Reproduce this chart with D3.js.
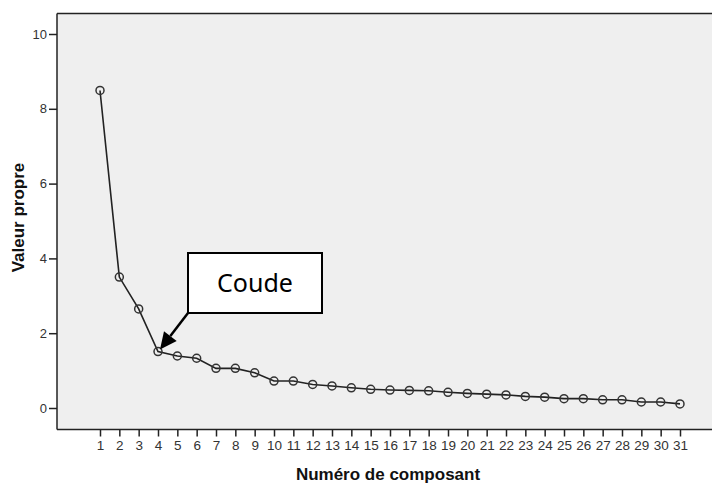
<!DOCTYPE html>
<html>
<head>
<meta charset="utf-8">
<script src="https://cdn.jsdelivr.net/npm/d3@7"></script>
<style>
  html, body { margin: 0; padding: 0; background: #ffffff; }
  svg { display: block; }
</style>
</head>
<body>
<svg id="chart" width="712" height="483"></svg>
<script>
const components = [1,2,3,4,5,6,7,8,9,10,11,12,13,14,15,16,17,18,19,20,21,22,23,24,25,26,27,28,29,30,31];
const eigenvalues = [8.49,3.50,2.65,1.51,1.39,1.33,1.06,1.06,0.94,0.72,0.72,0.63,0.59,0.54,0.50,0.48,0.47,0.46,0.42,0.39,0.37,0.35,0.31,0.29,0.25,0.25,0.22,0.22,0.16,0.16,0.11];
const yTicks = [0,2,4,6,8,10];
const xLabel = "Numéro de composant";
const yLabel = "Valeur propre";
const annotationText = "Coude";
const elbowIndex = 3;

const svg = d3.select("#chart");
const plot = { left: 57, top: 13.5, right: 712, bottom: 429.5 };

const x = d3.scaleLinear().domain([1, 31]).range([100, 680]);
const y = d3.scaleLinear().domain([0, 10]).range([408, 34]);

svg.append("rect")
  .attr("x", plot.left).attr("y", plot.top)
  .attr("width", plot.right - plot.left).attr("height", plot.bottom - plot.top)
  .attr("fill", "#efefef");

svg.append("line")
  .attr("x1", plot.left).attr("x2", plot.right)
  .attr("y1", plot.top).attr("y2", plot.top)
  .attr("stroke", "#222").attr("stroke-width", 1.5);

const yAxis = d3.axisLeft(y).tickValues(yTicks).tickSize(8).tickPadding(2).tickFormat(d3.format("d"));
const gy = svg.append("g").attr("transform", `translate(${plot.left},0)`).call(yAxis);
gy.select(".domain").remove();
gy.append("line").attr("x1", 0).attr("x2", 0).attr("y1", plot.top).attr("y2", plot.bottom)
  .attr("stroke", "#222").attr("stroke-width", 1.5);
gy.selectAll(".tick line").attr("stroke", "#222").attr("stroke-width", 1.5);
gy.selectAll(".tick text").attr("font-family", "Liberation Sans, Arial, sans-serif")
  .attr("font-size", "13px").attr("fill", "#333");

const xAxis = d3.axisBottom(x).tickValues(components).tickSize(7).tickPadding(4).tickFormat(d3.format("d"));
const gx = svg.append("g").attr("transform", `translate(0,${plot.bottom})`).call(xAxis);
gx.select(".domain").remove();
gx.append("line").attr("x1", plot.left).attr("x2", plot.right).attr("y1", 0).attr("y2", 0)
  .attr("stroke", "#222").attr("stroke-width", 1.5);
gx.selectAll(".tick line").attr("stroke", "#222").attr("stroke-width", 1.5);
gx.selectAll(".tick text").attr("font-family", "Liberation Sans, Arial, sans-serif")
  .attr("font-size", "13.5px").attr("fill", "#333");

const data = components.map((c, i) => ({ c, v: eigenvalues[i] }));
svg.append("path")
  .datum(data)
  .attr("fill", "none")
  .attr("stroke", "#222")
  .attr("stroke-width", 1.6)
  .attr("d", d3.line().x(d => x(d.c)).y(d => y(d.v)));

svg.append("g").selectAll("circle")
  .data(data).join("circle")
  .attr("cx", d => x(d.c)).attr("cy", d => y(d.v))
  .attr("r", 4)
  .attr("fill", "none").attr("stroke", "#333").attr("stroke-width", 1.5);

svg.append("text")
  .attr("x", 388).attr("y", 480)
  .attr("text-anchor", "middle")
  .attr("font-family", "Liberation Sans, Arial, sans-serif")
  .attr("font-weight", "bold").attr("font-size", "17px").attr("fill", "#111")
  .text(xLabel);

svg.append("text")
  .attr("transform", `translate(24,${(163 + 272) / 2}) rotate(-90)`)
  .attr("text-anchor", "middle")
  .attr("font-family", "Liberation Sans, Arial, sans-serif")
  .attr("font-weight", "bold").attr("font-size", "17px").attr("fill", "#111")
  .text(yLabel);

const box = { x: 188, y: 253, w: 134, h: 60 };
const tipX = x(components[elbowIndex]) + 2, tipY = y(eigenvalues[elbowIndex]) - 2;
const sx = box.x, sy = box.y + box.h;
const ang = Math.atan2(tipY - sy, tipX - sx);
const headLen = 17, headW = 8;
const bx = tipX - headLen * Math.cos(ang), by = tipY - headLen * Math.sin(ang);
svg.append("line")
  .attr("x1", sx).attr("y1", sy).attr("x2", bx).attr("y2", by)
  .attr("stroke", "#000").attr("stroke-width", 2.5);
svg.append("polygon")
  .attr("points", [
    [tipX, tipY],
    [bx + headW * Math.sin(ang), by - headW * Math.cos(ang)],
    [bx - headW * Math.sin(ang), by + headW * Math.cos(ang)]
  ].map(p => p.join(",")).join(" "))
  .attr("fill", "#000");

svg.append("rect")
  .attr("x", box.x).attr("y", box.y).attr("width", box.w).attr("height", box.h)
  .attr("fill", "#fff").attr("stroke", "#000").attr("stroke-width", 2);
svg.append("text")
  .attr("x", box.x + box.w / 2).attr("y", 292)
  .attr("text-anchor", "middle")
  .attr("font-family", "Noto Sans, sans-serif")
  .attr("font-size", "25px").attr("fill", "#000")
  .text(annotationText);
</script>
</body>
</html>
